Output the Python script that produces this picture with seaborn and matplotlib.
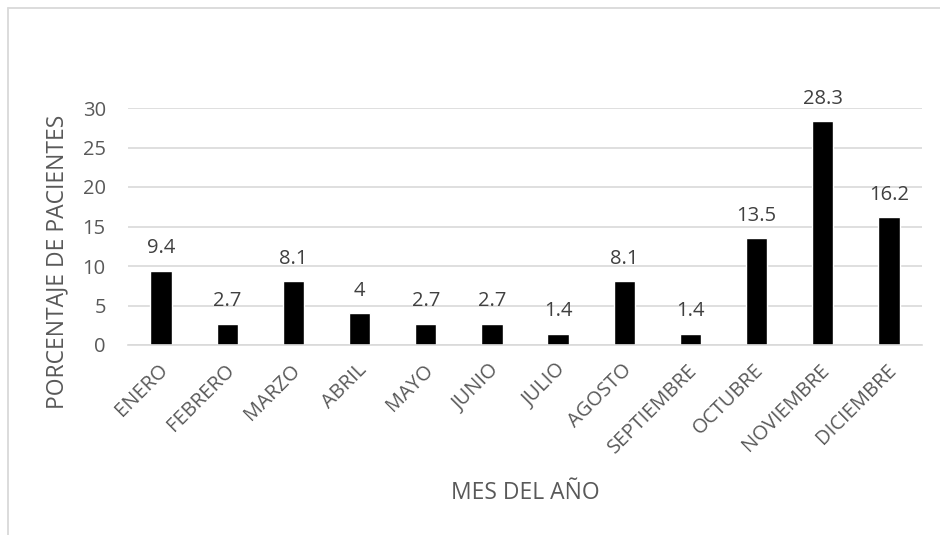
import matplotlib
matplotlib.use("Agg")
import matplotlib.pyplot as plt
import matplotlib.transforms as mtransforms
import seaborn as sns
import pandas as pd
from matplotlib.lines import Line2D

# Porcentaje de pacientes por mes
meses = ["ENERO", "FEBRERO", "MARZO", "ABRIL", "MAYO", "JUNIO", "JULIO",
         "AGOSTO", "SEPTIEMBRE", "OCTUBRE", "NOVIEMBRE", "DICIEMBRE"]
porcentajes = [9.4, 2.7, 8.1, 4, 2.7, 2.7, 1.4, 8.1, 1.4, 13.5, 28.3, 16.2]
marcas_y = [0, 5, 10, 15, 20, 25, 30]

sns.set_theme(style="white")
plt.rcParams["font.family"] = ["Open Sans", "DejaVu Sans"]

W, H = 940, 535
fig = plt.figure(figsize=(W / 100, H / 100), dpi=100)
fig.patch.set_facecolor("white")

# marco del gráfico
gris_marco = "#d9d9d9"
fig.add_artist(Line2D([8 / W, 1.0], [1 - 8 / H, 1 - 8 / H], transform=fig.transFigure,
                      color=gris_marco, lw=1.3))
fig.add_artist(Line2D([8 / W, 8 / W], [0.0, 1 - 8 / H], transform=fig.transFigure,
                      color=gris_marco, lw=1.3))

ax = fig.add_axes([128 / W, 1 - 345 / H, 794 / W, 237 / H])
df = pd.DataFrame({"mes": meses, "pct": porcentajes})
sns.barplot(data=df, x="mes", y="pct", color="black", saturation=1,
            width=0.32, ax=ax)

ax.set_xlim(-0.5, len(meses) - 0.5)
ax.set_ylim(0, 30)
ax.set_yticks(marcas_y)
ax.yaxis.grid(True, color="#d9d9d9", lw=1.2)
ax.xaxis.grid(False)
ax.set_axisbelow(True)
for s in ["top", "right", "left"]:
    ax.spines[s].set_visible(False)
ax.spines["bottom"].set_color("#d9d9d9")
ax.spines["bottom"].set_linewidth(1.2)

texto = "#595959"
ax.tick_params(axis="both", length=0, labelsize=14.5, colors=texto)
ax.tick_params(axis="y", pad=16)
ax.tick_params(axis="x", pad=16)
desplazamiento = mtransforms.ScaledTranslation(3 / 72, 0, fig.dpi_scale_trans)
for lab in ax.get_xticklabels():
    lab.set_rotation(45)
    lab.set_ha("right")
    lab.set_va("center")
    lab.set_rotation_mode("anchor")
    lab.set_transform(lab.get_transform() + desplazamiento)

ax.bar_label(ax.containers[0], labels=[f"{v:g}" for v in porcentajes],
             padding=9, fontsize=14.5, color="#404040")

ax.set_xlabel("MES DEL AÑO", fontsize=16.5, color=texto)
ax.set_ylabel("PORCENTAJE DE PACIENTES", fontsize=16.5, color=texto)
ax.xaxis.set_label_coords(0.5, (345 - 492.7) / 237)
ax.xaxis.label.set_va("center")
ax.yaxis.set_label_coords((57.5 - 128) / 794, (345 - 261.5) / 237)
ax.yaxis.label.set_va("center")

fig.savefig("out.png", dpi=100, facecolor="white")
